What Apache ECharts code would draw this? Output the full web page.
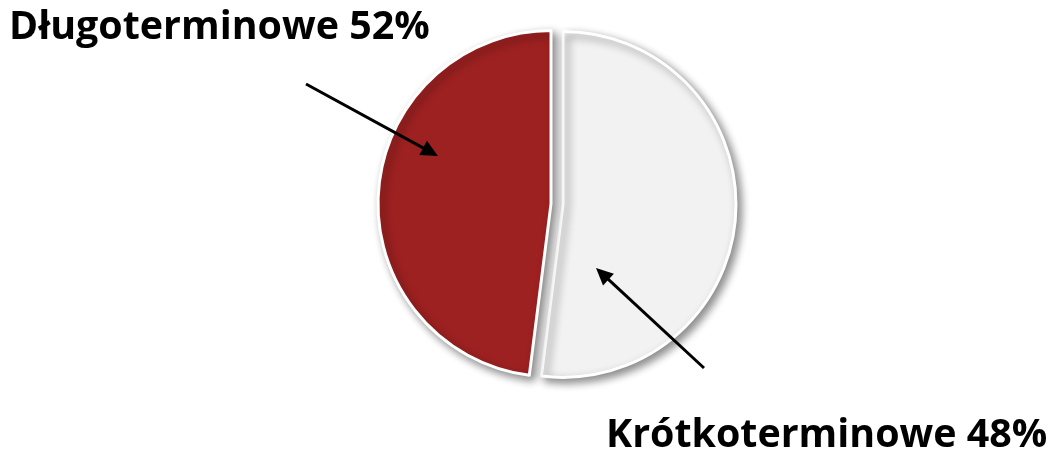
<!DOCTYPE html>
<html><head><meta charset="utf-8">
<script src="https://cdn.jsdelivr.net/npm/echarts@6/dist/echarts.min.js"></script>
<style>html,body{margin:0;padding:0;background:#fff}#main{width:1052px;height:453px}</style>
</head><body><div id="main"></div>
<script>
// Slices in drawing order (clockwise from 12 o'clock), values as drawn
var categories = ['Krótkoterminowe', 'Długoterminowe'];
var values = [52, 48];
var sliceColors = ['#F2F2F2', '#9E2121'];
// Annotation texts as printed in the chart
var labelTexts = ['Długoterminowe 52%', 'Krótkoterminowe 48%'];

function arrow(x1, y1, x2, y2) {
  var dx = x2 - x1, dy = y2 - y1, L = Math.sqrt(dx*dx + dy*dy);
  var ux = dx / L, uy = dy / L, hl = 17, hw = 8;
  var bx = x2 - ux*hl, by = y2 - uy*hl;
  return [
    {type: 'line', shape: {x1: x1, y1: y1, x2: bx + ux*2, y2: by + uy*2}, style: {stroke: '#000', lineWidth: 3}, z: 100},
    {type: 'polygon', shape: {points: [[x2, y2], [bx - uy*hw, by + ux*hw], [bx + uy*hw, by - ux*hw]]}, style: {fill: '#000'}, z: 100}
  ];
}

var chart = echarts.init(document.getElementById('main'), null, {renderer: 'canvas'});
var textFont = 'bold 39.4px "Open Sans"';
chart.setOption({
  animation: false,
  backgroundColor: '#fff',
  series: [{
    type: 'pie',
    center: [557, 204],
    radius: 173,
    startAngle: 90,
    clockwise: true,
    selectedMode: 'multiple',
    selectedOffset: 6,
    label: {show: false},
    labelLine: {show: false},
    emphasis: {disabled: true},
    itemStyle: {
      borderColor: '#fff',
      borderWidth: 3,
      shadowBlur: 8,
      shadowOffsetX: 4,
      shadowOffsetY: 4,
      shadowColor: 'rgba(0,0,0,0.45)'
    },
    data: categories.map(function (c, i) {
      return {name: c, value: values[i], selected: true, itemStyle: {color: sliceColors[i]}};
    })
  }],
  graphic: [].concat(
    [{type: 'text', left: 9, top: 8, style: {text: labelTexts[0], font: textFont, fill: '#000'}, z: 100},
     {type: 'text', left: 606, top: 416, style: {text: labelTexts[1], font: textFont, fill: '#000'}, z: 100}],
    arrow(306, 84, 438, 156),
    arrow(704, 368, 596, 268)
  )
});
</script></body></html>
